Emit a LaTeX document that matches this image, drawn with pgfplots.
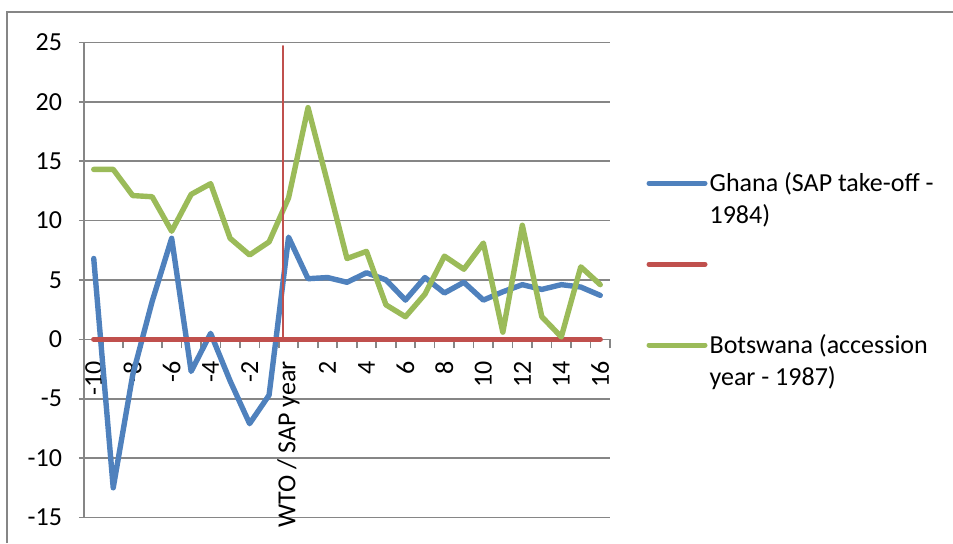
\documentclass[border=0pt]{standalone}
\usepackage{fontspec}
\setmainfont{Carlito}
\usepackage{pgfplots}
\pgfplotsset{compat=1.18}
\definecolor{ghana}{HTML}{4F81BD}
\definecolor{sapred}{HTML}{C0504D}
\definecolor{botswana}{HTML}{9BBB59}
\definecolor{gridgray}{HTML}{868686}

\begin{document}
\begin{tikzpicture}[legtext/.style={anchor=base west, inner sep=0pt,
    font=\fontsize{13}{16}\selectfont}]
% page = 953x543 px at 0.5pt/px, plot area SW at origin
\useasboundingbox (-42pt,-12.75pt) rectangle (434.5pt,258.75pt);
\draw[gridgray, line width=0.8pt] (-38.5pt,-12.75pt) -- (-38.5pt,252.75pt) -- (434.5pt,252.75pt);
\begin{axis}[
  name=ax, at={(0,0)}, anchor=south west,
  scale only axis, width=263pt, height=237.6pt,
  xmin=-10.5, xmax=16.5, ymin=-15, ymax=25,
  axis x line*=middle, axis y line*=left,
  hide obscured x ticks=false, hide obscured y ticks=false,
  axis line style={gridgray, line width=0.8pt},
  tick align=outside,
  xtick={-10,-8,...,16},
  xticklabels={-10,-8,-6,-4,-2,WTO / SAP year,2,4,6,8,10,12,14,16},
  major x tick style={draw=none},
  minor xtick={-10.5,-9.5,...,16.5},
  minor x tick style={gridgray, line width=0.8pt},
  minor tick length=4.5pt,
  ytick={-15,-10,...,25},
  yticklabels={-15,-10,-5,0,5,10,15,20,25},
  major y tick style={gridgray, line width=0.8pt},
  major tick length=2.5pt,
  ymajorgrids, grid style={gridgray, line width=0.8pt},
  tick label style={font=\fontsize{13}{16}\selectfont},
  xticklabel style={rotate=90, anchor=east},
  xticklabel shift=5pt,
  yticklabel shift=5pt,
  every axis plot/.append style={line join=round, line cap=round},
]
\addplot[ghana, line width=2.7pt] coordinates {
  (-10,6.8) (-9,-12.5) (-8,-3.0) (-7,3.2) (-6,8.5) (-5,-2.7) (-4,0.5)
  (-3,-3.5) (-2,-7.1) (-1,-4.7) (0,8.6) (1,5.1) (2,5.2) (3,4.8) (4,5.6)
  (5,5.0) (6,3.3) (7,5.2) (8,3.9) (9,4.8) (10,3.3) (11,4.0) (12,4.6)
  (13,4.2) (14,4.6) (15,4.4) (16,3.7)
};
\addplot[sapred, line width=2.7pt] coordinates {
  (-10,0) (-9,0) (-8,0) (-7,0) (-6,0) (-5,0) (-4,0) (-3,0) (-2,0) (-1,0)
  (0,0) (1,0) (2,0) (3,0) (4,0) (5,0) (6,0) (7,0) (8,0) (9,0) (10,0)
  (11,0) (12,0) (13,0) (14,0) (15,0) (16,0)
};
\addplot[botswana, line width=2.7pt] coordinates {
  (-10,14.3) (-9,14.3) (-8,12.1) (-7,12.0) (-6,9.1) (-5,12.2) (-4,13.1)
  (-3,8.5) (-2,7.1) (-1,8.2) (0,11.9) (1,19.5) (2,13.2) (3,6.8) (4,7.4)
  (5,2.9) (6,1.9) (7,3.8) (8,7.0) (9,5.9) (10,8.1) (11,0.6) (12,9.6)
  (13,1.9) (14,0.2) (15,6.1) (16,4.6)
};
% vertical marker of the WTO / SAP year
\addplot[sapred, line width=0.7pt] coordinates {(-0.28,0) (-0.28,24.7)};
\end{axis}
% legend, right of the plot area
\draw[ghana, line width=2.5pt, line cap=round] (282.5pt,167.1pt) -- (310.5pt,167.1pt);
\node[legtext] at (312.6pt,162.9pt) {\begin{tabular}[t]{@{}l@{}}Ghana (SAP take-off -\\1984)\end{tabular}};
\draw[sapred, line width=2.5pt, line cap=round] (282.5pt,126.6pt) -- (310.5pt,126.6pt);
\draw[botswana, line width=2.5pt, line cap=round] (282.5pt,86.2pt) -- (310.5pt,86.2pt);
\node[legtext] at (312.6pt,82pt) {\begin{tabular}[t]{@{}l@{}}Botswana (accession\\year - 1987)\end{tabular}};
\end{tikzpicture}
\end{document}
